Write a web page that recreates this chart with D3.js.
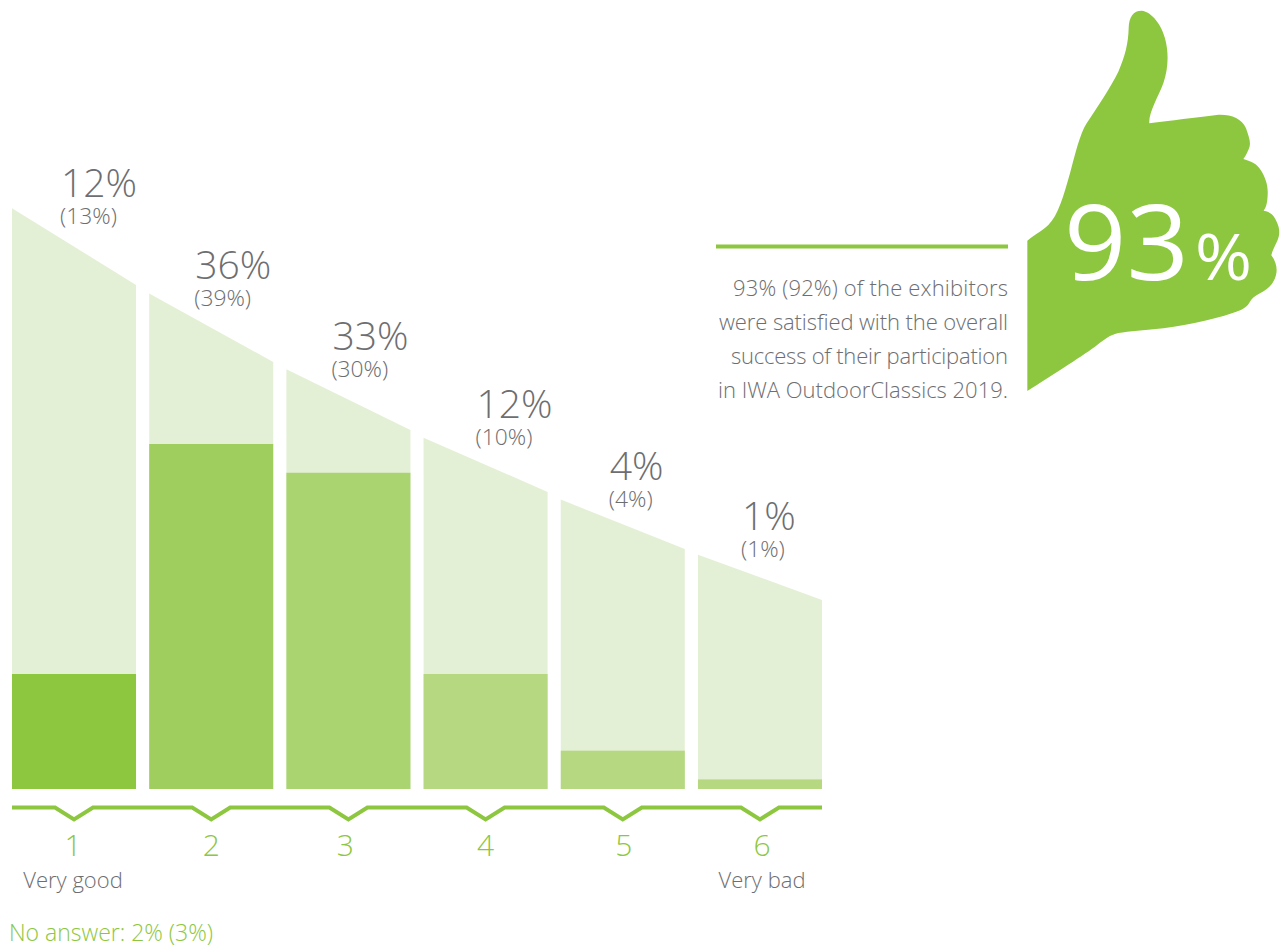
<!DOCTYPE html>
<html>
<head>
<meta charset="utf-8">
<script src="https://cdn.jsdelivr.net/npm/d3@7"></script>
<style>
  html, body { margin: 0; padding: 0; background: #fff; }
  svg { display: block; }
  text { font-family: "Open Sans", "Noto Sans", sans-serif; font-weight: 300; }
</style>
</head>
<body>
<svg id="chart" width="1287" height="946"></svg>
<script>
// Satisfaction ratings, current year and previous year in brackets
const grades = ["1", "2", "3", "4", "5", "6"];
const shares = [12, 36, 33, 12, 4, 1];
const previousShares = [13, 39, 30, 10, 4, 1];
// Height of the pale backing panels at their left and right edges, on the same percentage scale
const panelLeft = [60.6, 51.7, 43.8, 36.65, 30.2, 24.45];
const panelRight = [52.6, 44.56, 37.46, 31.0, 25.04, 19.72];
const fills = ["#8dc73f", "#a0ce5e", "#a9d46f", "#b5d881", "#b5d881", "#b5d881"];
const gradeCaptions = ["Very good", "", "", "", "", "Very bad"];
const summaryLines = [
  "93% (92%) of the exhibitors",
  "were satisfied with the overall",
  "success of their participation",
  "in IWA OutdoorClassics 2019."
];
const noAnswer = "No answer: 2% (3%)";

const GREEN = "#8dc73f";
const GREY = "#6d6e71";
const PALE = "#e4f0d6";

const svg = d3.select("#chart");

const x = d3.scaleBand().domain(grades).range([12, 822]).paddingInner(0.096);
const y = d3.scaleLinear().domain([0, 36]).range([789, 444]);

// Backing panels: sloping tops, drawn as closed areas
const panel = d3.area().x(d => d.x).y0(y(0)).y1(d => y(d.v));
svg.append("g").selectAll("path").data(grades).join("path")
  .attr("fill", PALE)
  .attr("d", (g, i) => panel([
    { x: x(g), v: panelLeft[i] },
    { x: x(g) + x.bandwidth(), v: panelRight[i] }
  ]));

// Value bars
svg.append("g").selectAll("rect").data(grades).join("rect")
  .attr("x", g => x(g))
  .attr("width", x.bandwidth())
  .attr("y", (g, i) => y(shares[i]))
  .attr("height", (g, i) => y(0) - y(shares[i]))
  .attr("fill", (g, i) => fills[i]);

// Value labels sit above each panel, nudged along the slope
const labelDx = [49, 46, 46, 53, 49, 44];
const labelDy = [11, 15, 19, 20, 20, 25];
const labels = svg.append("g").selectAll("g").data(grades).join("g")
  .attr("transform", (g, i) => `translate(${x(g) + labelDx[i]},${y(panelLeft[i]) - labelDy[i]})`);
labels.append("text")
  .attr("font-size", 39).attr("fill", GREY)
  .text((g, i) => shares[i] + "%");
labels.append("text")
  .attr("y", 27).attr("x", -1).attr("font-size", 22.8).attr("fill", GREY)
  .text((g, i) => `(${previousShares[i]}%)`);

// Baseline with a small notch under each bar
const notch = 19, notchDepth = 12, lineY = 807.5;
const linePoints = [[12, lineY]];
grades.forEach(g => {
  const c = x(g) + x.bandwidth() / 2;
  linePoints.push([c - notch, lineY], [c, lineY + notchDepth], [c + notch, lineY]);
});
linePoints.push([822, lineY]);
svg.append("path")
  .attr("d", d3.line()(linePoints))
  .attr("fill", "none").attr("stroke", GREEN).attr("stroke-width", 4);

// Grade numbers, with small optical shifts per digit
const gradeDx = [-1, 0, -3, 0, 1, 2];
const axis = d3.axisBottom(x).tickSize(0).tickPadding(0);
const axisG = svg.append("g").attr("transform", "translate(0,856)").call(axis);
axisG.select(".domain").remove();
axisG.selectAll("text")
  .attr("y", 0).attr("dy", 0)
  .attr("x", (d, i) => gradeDx[i])
  .attr("font-size", 30).attr("fill", GREEN)
  .style("font-family", '"Open Sans", "Noto Sans", sans-serif').style("font-weight", 300);

// Captions under the first and last grades
svg.append("g").selectAll("text").data(grades).join("text")
  .attr("x", (g, i) => x(g) + x.bandwidth() / 2 + gradeDx[i])
  .attr("y", 888).attr("text-anchor", "middle")
  .attr("font-size", 22).attr("fill", GREY)
  .text((g, i) => gradeCaptions[i]);

svg.append("text")
  .attr("x", 9).attr("y", 941).attr("font-size", 23).attr("fill", GREEN)
  .text(noAnswer);

// Thumbs-up badge, outline traced in a 3x working grid
const hand = svg.append("g").attr("transform", "translate(1020,0) scale(0.33333)");
hand.append("path").attr("fill", GREEN).attr("d",
  "M22,722 C50,700 70,690 85,675 C115,645 130,590 150,520 C165,465 180,400 200,370 " +
  "C230,325 270,265 295,215 C315,170 325,130 326,85 C327,50 340,32 365,32 " +
  "C395,35 425,75 435,115 C447,160 445,205 430,250 C415,290 385,340 388,370 " +
  "C450,362 530,352 590,345 C630,342 665,355 678,385 C688,415 695,430 685,450 " +
  "C680,462 675,470 670,477 C695,485 712,492 722,510 C735,530 745,555 743,585 " +
  "C742,605 740,620 731,632 C750,635 762,645 770,665 C780,685 780,705 772,722 " +
  "C765,737 757,752 754,766 C768,785 773,805 768,825 C762,850 745,868 720,880 " +
  "C705,888 695,895 688,908 C680,922 665,930 640,938 C570,962 480,980 400,988 " +
  "C360,992 310,995 285,1002 C265,1008 245,1025 225,1040 C180,1072 90,1130 22,1173 Z");

svg.append("text").attr("x", 1064).attr("y", 280)
  .attr("font-size", 105).style("font-weight", 400).attr("fill", "#fff")
  .attr("textLength", 125).attr("lengthAdjust", "spacingAndGlyphs")
  .text("93");
svg.append("text").attr("x", 1195).attr("y", 280)
  .attr("font-size", 64).style("font-weight", 400).attr("fill", "#fff")
  .attr("textLength", 57).attr("lengthAdjust", "spacingAndGlyphs")
  .text("%");

// Summary statement, each line fitted to its measure
const summaryWidths = [275, 289, 277, 290];
svg.append("line")
  .attr("x1", 716).attr("x2", 1008).attr("y1", 246.5).attr("y2", 246.5)
  .attr("stroke", GREEN).attr("stroke-width", 4);
svg.append("g").selectAll("text").data(summaryLines).join("text")
  .attr("x", 1008).attr("y", (d, i) => 296 + i * 34)
  .attr("text-anchor", "end")
  .attr("font-size", 22).attr("fill", GREY)
  .attr("textLength", (d, i) => summaryWidths[i])
  .text(d => d);
</script>
</body>
</html>
